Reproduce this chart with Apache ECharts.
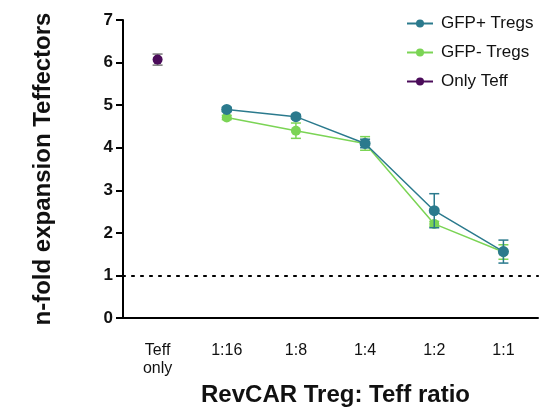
<!DOCTYPE html>
<html><head><meta charset="utf-8">
<script src="https://cdn.jsdelivr.net/npm/echarts@6/dist/echarts.min.js"></script>
<style>html,body{margin:0;padding:0;background:#fff}#c{width:550px;height:412px}</style>
</head><body><div id="c"></div>
<script>
const categories = ['Teff\nonly', '1:16', '1:8', '1:4', '1:2', '1:1'];
const gfpPlus = [null, 4.90, 4.73, 4.10, 2.52, 1.56];
const gfpPlusErr = [null, 0.05, 0.05, 0.10, 0.40, 0.27];
const gfpMinus = [null, 4.71, 4.40, 4.10, 2.21, 1.55];
const gfpMinusErr = [null, 0.05, 0.18, 0.16, 0.06, 0.17];
const onlyTeff = [6.07, null, null, null, null, null];
const onlyTeffErr = [0.13, null, null, null, null, null];
const yTicks = [0, 1, 2, 3, 4, 5, 6, 7];
const baseline = 1;

const C_PLUS = '#2b7a8d', C_MINUS = '#7bd455', C_TEFF = '#4b0c5a';
const FONT = 'Liberation Sans, Arial, sans-serif';

function errSeries(vals, errs, color, z) {
  const data = [];
  vals.forEach((v, i) => { if (v != null) data.push([i, v - errs[i], v + errs[i]]); });
  return {
    type: 'custom', z: z, silent: true,
    data: data,
    renderItem: function (params, api) {
      const lo = api.coord([api.value(0), api.value(1)]);
      const hi = api.coord([api.value(0), api.value(2)]);
      const w = 5;
      const st = { stroke: color, lineWidth: 1.5 };
      return { type: 'group', children: [
        { type: 'line', shape: { x1: lo[0], y1: lo[1], x2: hi[0], y2: hi[1] }, style: st },
        { type: 'line', shape: { x1: lo[0] - w, y1: lo[1], x2: lo[0] + w, y2: lo[1] }, style: st },
        { type: 'line', shape: { x1: hi[0] - w, y1: hi[1], x2: hi[0] + w, y2: hi[1] }, style: st }
      ]};
    }
  };
}

const chart = echarts.init(document.getElementById('c'));
chart.setOption({
  animation: false,
  textStyle: { fontFamily: FONT },
  grid: { left: 123, right: 12, top: 20, bottom: 92 },
  legend: {
    orient: 'vertical', left: 401, top: 10, itemGap: 12,
    itemWidth: 26, itemHeight: 10,
    textStyle: { fontSize: 17, color: '#111', fontFamily: FONT, padding: [0, 0, 0, 3] },
    data: ['GFP+ Tregs', 'GFP- Tregs', 'Only Teff']
  },
  xAxis: {
    type: 'category', data: categories, boundaryGap: true,
    name: 'RevCAR Treg: Teff ratio', nameLocation: 'middle', nameGap: 65,
    nameTextStyle: { fontSize: 24, fontWeight: 'bold', color: '#111', fontFamily: FONT, padding: [0, 0, 0, 10] },
    axisLine: { lineStyle: { color: '#000', width: 2 } },
    axisTick: { alignWithLabel: true, length: 8, lineStyle: { color: '#000', width: 2 } },
    axisLabel: { fontSize: 16, color: '#111', margin: 24, lineHeight: 18, fontFamily: FONT, align: 'center' }
  },
  yAxis: {
    type: 'value', min: yTicks[0], max: yTicks[yTicks.length - 1], interval: 1,
    name: 'n-fold expansion Teffectors', nameLocation: 'middle', nameGap: 68,
    nameTextStyle: { fontSize: 24, fontWeight: 'bold', color: '#111', fontFamily: FONT },
    splitLine: { show: false },
    axisLine: { show: true, lineStyle: { color: '#000', width: 2 } },
    axisTick: { show: true, length: 7, lineStyle: { color: '#000', width: 2 } },
    axisLabel: { fontSize: 17, fontWeight: 'bold', color: '#111', margin: 10, fontFamily: FONT }
  },
  series: [
    errSeries(gfpMinus, gfpMinusErr, C_MINUS, 3),
    errSeries(gfpPlus, gfpPlusErr, C_PLUS, 5),
    errSeries(onlyTeff, onlyTeffErr, '#777', 5),
    {
      name: 'GFP- Tregs', type: 'line', data: gfpMinus, z: 4,
      symbol: 'circle', symbolSize: 10, connectNulls: false,
      itemStyle: { color: C_MINUS }, lineStyle: { color: C_MINUS, width: 1.5 },
      markLine: {
        silent: true, symbol: 'none', label: { show: false },
        lineStyle: { color: '#000', type: [2, 7], width: 2.2, cap: 'round' },
        data: [{ yAxis: baseline }]
      }
    },
    {
      name: 'GFP+ Tregs', type: 'line', data: gfpPlus, z: 6,
      symbol: 'circle', symbolSize: 11,
      itemStyle: { color: C_PLUS }, lineStyle: { color: C_PLUS, width: 1.5 }
    },
    {
      name: 'Only Teff', type: 'line', data: onlyTeff, z: 6,
      symbol: 'circle', symbolSize: 10,
      itemStyle: { color: C_TEFF }, lineStyle: { color: C_TEFF, width: 1.5 }
    }
  ]
});
</script></body></html>
